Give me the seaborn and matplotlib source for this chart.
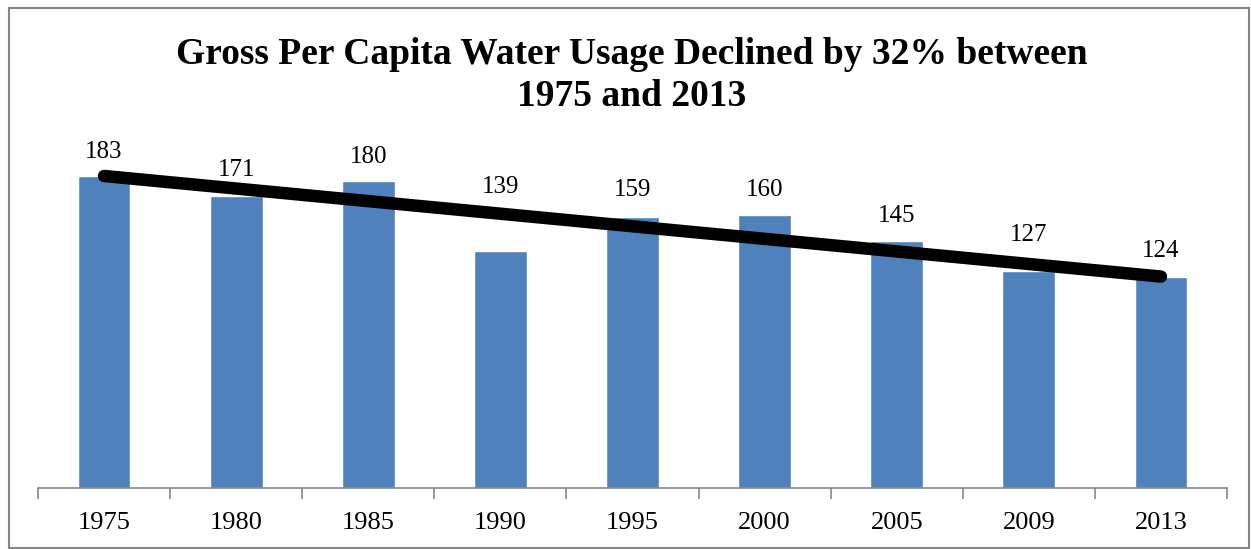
import matplotlib
matplotlib.use("Agg")
import matplotlib.pyplot as plt
import seaborn as sns
import pandas as pd
from matplotlib.patches import Rectangle

years = ["1975", "1980", "1985", "1990", "1995", "2000", "2005", "2009", "2013"]
usage = [183, 171, 180, 139, 159, 160, 145, 127, 124]
trend_years = ["1975", "2013"]
trend_values = [183, 124]
title = "Gross Per Capita Water Usage Declined by 32% between\n1975 and 2013"

# label lift above bar top (pixels) – some labels were moved clear of the line
label_lift_px = [24, 26, 24, 64, 27, 25, 25, 36, 26]

sns.set_theme(style="white")
plt.rcParams["font.family"] = ["Liberation Serif", "DejaVu Serif"]

df = pd.DataFrame({"year": years, "usage": usage})

fig = plt.figure(figsize=(12.51, 5.49), dpi=100)
ax = fig.add_axes([38 / 1251, 61 / 549, (1227 - 38) / 1251, 341 / 549])

sns.barplot(data=df, x="year", y="usage", color="#4F81BD", saturation=1,
            width=0.4, ax=ax)

pos = {y: i for i, y in enumerate(years)}
ax.plot([pos[y] for y in trend_years], trend_values, color="black", lw=9,
        solid_capstyle="round", zorder=5, clip_on=False)

for i, (v, lift) in enumerate(zip(usage, label_lift_px)):
    ax.annotate(str(v), (i, v), xytext=(0, lift * 0.72), textcoords="offset points",
                ha="center", va="center", fontsize=18, color="black",
                zorder=6, annotation_clip=False)

ax.set_ylim(0, 200)
ax.set_xlim(-0.5, len(years) - 0.5)
ax.set_xlabel("")
ax.set_ylabel("")
ax.set_yticks([])
for s in ["top", "right", "left"]:
    ax.spines[s].set_visible(False)
ax.spines["bottom"].set_color("#868686")
ax.spines["bottom"].set_linewidth(1.2)

ax.set_xticks(range(len(years)))
ax.set_xticklabels(years, fontsize=19, color="black")
ax.tick_params(axis="x", which="major", length=0, pad=17)
ax.set_xticks([i - 0.5 for i in range(len(years) + 1)], minor=True)
ax.tick_params(axis="x", which="minor", length=8, width=1.2, color="#868686", direction="out", bottom=True)

fig.text(0.505, 0.862, title, ha="center", va="center", fontsize=27,
         fontweight="bold", linespacing=1.25, color="black")

fig.patches.append(Rectangle((9 / 1251, 1 / 549), 1240 / 1251, 540 / 549,
                             transform=fig.transFigure, fill=False,
                             edgecolor="#868686", lw=1.5))

fig.savefig("out.png", dpi=100)
